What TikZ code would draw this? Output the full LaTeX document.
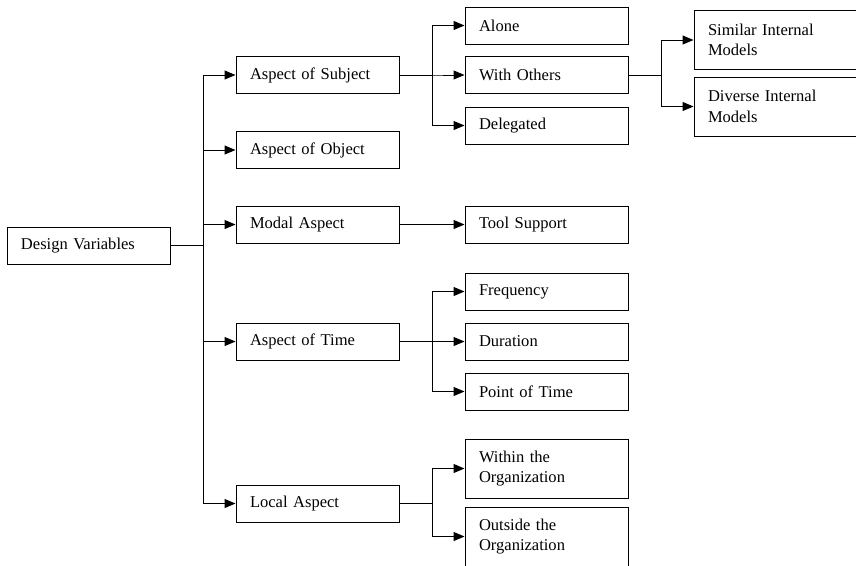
\documentclass[tikz,border=0pt]{standalone}
\usepackage{fontspec}
\setmainfont{Liberation Serif}
\usetikzlibrary{arrows.meta}

\tikzset{every picture/.style={line width=0.75pt}}
\tikzset{
  box/.style={draw, rectangle, minimum width=122.25pt, minimum height=27.75pt,
    text width=101.25pt, inner xsep=10.5pt, inner ysep=0pt, align=left,
    font=\fontsize{12.4}{15.5}\selectfont},
  tallbox/.style={box, minimum height=44.25pt},
  link/.style={-{Triangle[length=8.25pt,width=6.75pt]}},
}

\begin{document}
\begin{tikzpicture}[x=0.75pt,y=0.75pt,yscale=-1,xscale=1]
%set diagram area: 856 x 565
\useasboundingbox (0,0) rectangle (856,565);
\clip (0,0) rectangle (856,565);

% Root
\node [box] (dv) at (88.5,245.5) {Design Variables};

% First level
\node [box] (subj) at (317.5,75) {Aspect of Subject};
\node [box] (obj) at (317.5,150) {Aspect of Object};
\node [box] (modal) at (317.5,224.5) {Modal Aspect};
\node [box] (time) at (317.5,341.5) {Aspect of Time};
\node [box] (local) at (317.5,503.5) {Local Aspect};

% Second level
\node [box] (alone) at (546.5,25.5) {Alone};
\node [box] (withothers) at (546.5,75) {With Others};
\node [box] (delegated) at (546.5,125.5) {Delegated};
\node [box] (tool) at (546.5,224.5) {Tool Support};
\node [box] (freq) at (546.5,291.5) {Frequency};
\node [box] (duration) at (546.5,341.5) {Duration};
\node [box] (pointtime) at (546.5,391.5) {Point of Time};
\node [tallbox] (within) at (546.5,468.5) {Within the\\Organization};
\node [tallbox] (outside) at (546.5,536.5) {Outside the\\Organization};

% Third level
\node [tallbox] (similar) at (775.5,40) {Similar Internal\\Models};
\node [tallbox] (diverse) at (775.5,106.5) {Diverse Internal\\Models};

% Connectors
\foreach \n in {subj,obj,modal,time,local}
  \draw [link] (dv.east) -- ++(33,0) |- (\n.west);
\foreach \n in {alone,withothers,delegated}
  \draw [link] (subj.east) -- ++(33,0) |- (\n.west);
\foreach \n in {similar,diverse}
  \draw [link] (withothers.east) -- ++(33,0) |- (\n.west);
\draw [link] (modal) -- (tool);
\foreach \n in {freq,duration,pointtime}
  \draw [link] (time.east) -- ++(33,0) |- (\n.west);
\foreach \n in {within,outside}
  \draw [link] (local.east) -- ++(33,0) |- (\n.west);

\end{tikzpicture}
\end{document}
